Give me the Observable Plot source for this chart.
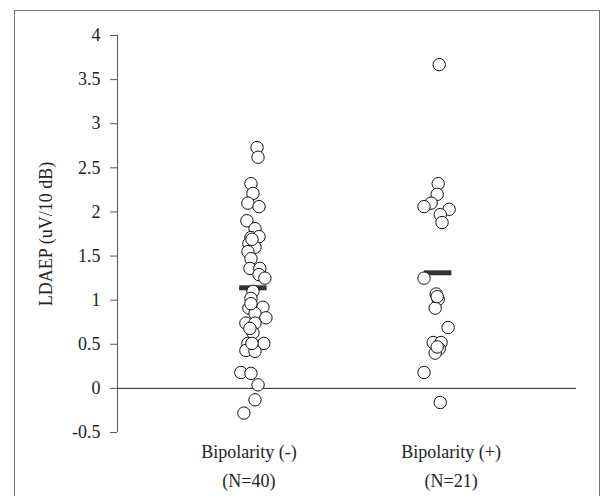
<!DOCTYPE html>
<html>
<head>
<meta charset="utf-8">
<script src="https://cdn.jsdelivr.net/npm/d3@7"></script>
<script src="https://cdn.jsdelivr.net/npm/@observablehq/plot@0.6"></script>
<style>
  html, body { margin: 0; padding: 0; background: #fff; }
  #wrap { position: relative; width: 616px; height: 496px; overflow: hidden; }
  #frame { position: absolute; left: 14px; top: 10px; width: 586px; height: 500px;
           border: 1px solid #777; border-bottom: none; box-sizing: border-box; }
  #chart { position: absolute; left: 0; top: 0; }
</style>
</head>
<body>
<div id="wrap"><div id="frame"></div><div id="chart"></div></div>
<script>
// Categories and labels
const groups = ["Bipolarity (-)", "Bipolarity (+)"];
const groupN = ["(N=40)", "(N=21)"];
const yTicks = [-0.5, 0, 0.5, 1, 1.5, 2, 2.5, 3, 3.5, 4];

// Bipolarity (-) LDAEP values and horizontal scatter (in category units)
const negValues = [2.73, 2.62, 2.32, 2.21, 2.10, 2.06, 1.90, 1.81, 1.71, 1.72,
                   1.64, 1.60, 1.55, 1.47, 1.36, 1.36, 1.29, 1.25, 1.10, 1.02,
                   0.91, 0.92, 0.85, 0.80, 0.74, 0.74, 0.63, 0.51, 0.51, 0.43,
                   0.42, 0.18, 0.17, 0.04, -0.13, -0.28, 1.69, 0.96, 0.51, 0.68];
const negJitter = [0.040, 0.045, 0.010, 0.020, -0.005, 0.050, -0.010, 0.030, 0.010, 0.050,
                   0.000, 0.030, -0.005, 0.010, 0.005, 0.054, 0.050, 0.079, 0.020, 0.010,
                   0.000, 0.069, 0.030, 0.084, -0.015, 0.030, 0.020, -0.005, 0.074, -0.015,
                   0.030, -0.040, 0.010, 0.045, 0.030, -0.025, 0.015, 0.010, 0.015, 0.005];

// Bipolarity (+)
const posValues = [3.67, 2.32, 2.20, 2.10, 2.06, 2.03, 1.97, 1.88, 1.25, 1.07,
                   1.01, 0.91, 0.69, 0.52, 0.52, 0.45, 0.40, 0.18, -0.16, 1.04, 0.47];
const posJitter = [-0.059, -0.064, -0.069, -0.099, -0.134, -0.010, -0.054, -0.045, -0.134, -0.074,
                   -0.064, -0.079, -0.015, -0.089, -0.050, -0.059, -0.079, -0.134, -0.054, -0.069, -0.069];

// Group means and their horizontal centre offsets
const means = [1.14, 1.31];
const meanJitter = [0.022, -0.064];
const meanHalf = 0.068;

const points = [
  ...negValues.map((v, i) => ({x: 1 + negJitter[i], y: v})),
  ...posValues.map((v, i) => ({x: 2 + posJitter[i], y: v}))
];
const meanData = means.map((m, i) => ({y: m, x1: i + 1 + meanJitter[i] - meanHalf, x2: i + 1 + meanJitter[i] + meanHalf}));
const xDomain = [0.35, 2.62];

const chart = Plot.plot({
  width: 616,
  height: 496,
  marginLeft: 117,
  marginRight: 40,
  marginTop: 35,
  marginBottom: 64,
  x: {domain: xDomain, axis: null},
  y: {domain: [-0.5, 4]},
  style: {fontFamily: "'Liberation Serif', serif", fontSize: "18px", color: "#222", background: "transparent"},
  marks: [
    Plot.ruleX([xDomain[0]], {stroke: "#555"}),
    Plot.ruleY([0], {stroke: "#222"}),
    Plot.axisY({ticks: yTicks, tickSize: 7, tickPadding: 10, tickFormat: d => String(d), stroke: "#555",
                label: "LDAEP (uV/10 dB)", labelAnchor: "center", labelOffset: 78, labelArrow: false}),
    Plot.axisX({ticks: [1, 2], tickSize: 0, tickPadding: 6, tickFormat: d => groups[d - 1] + "\n" + groupN[d - 1], lineHeight: 1.56}),
    Plot.ruleY(meanData, {y: "y", x1: "x1", x2: "x2", stroke: "#333", strokeWidth: 5}),
    Plot.dot(points, {x: "x", y: "y", r: 6.2, fill: "white", stroke: "#111", strokeWidth: 1})
  ]
});
document.getElementById("chart").appendChild(chart);
</script>
</body>
</html>
